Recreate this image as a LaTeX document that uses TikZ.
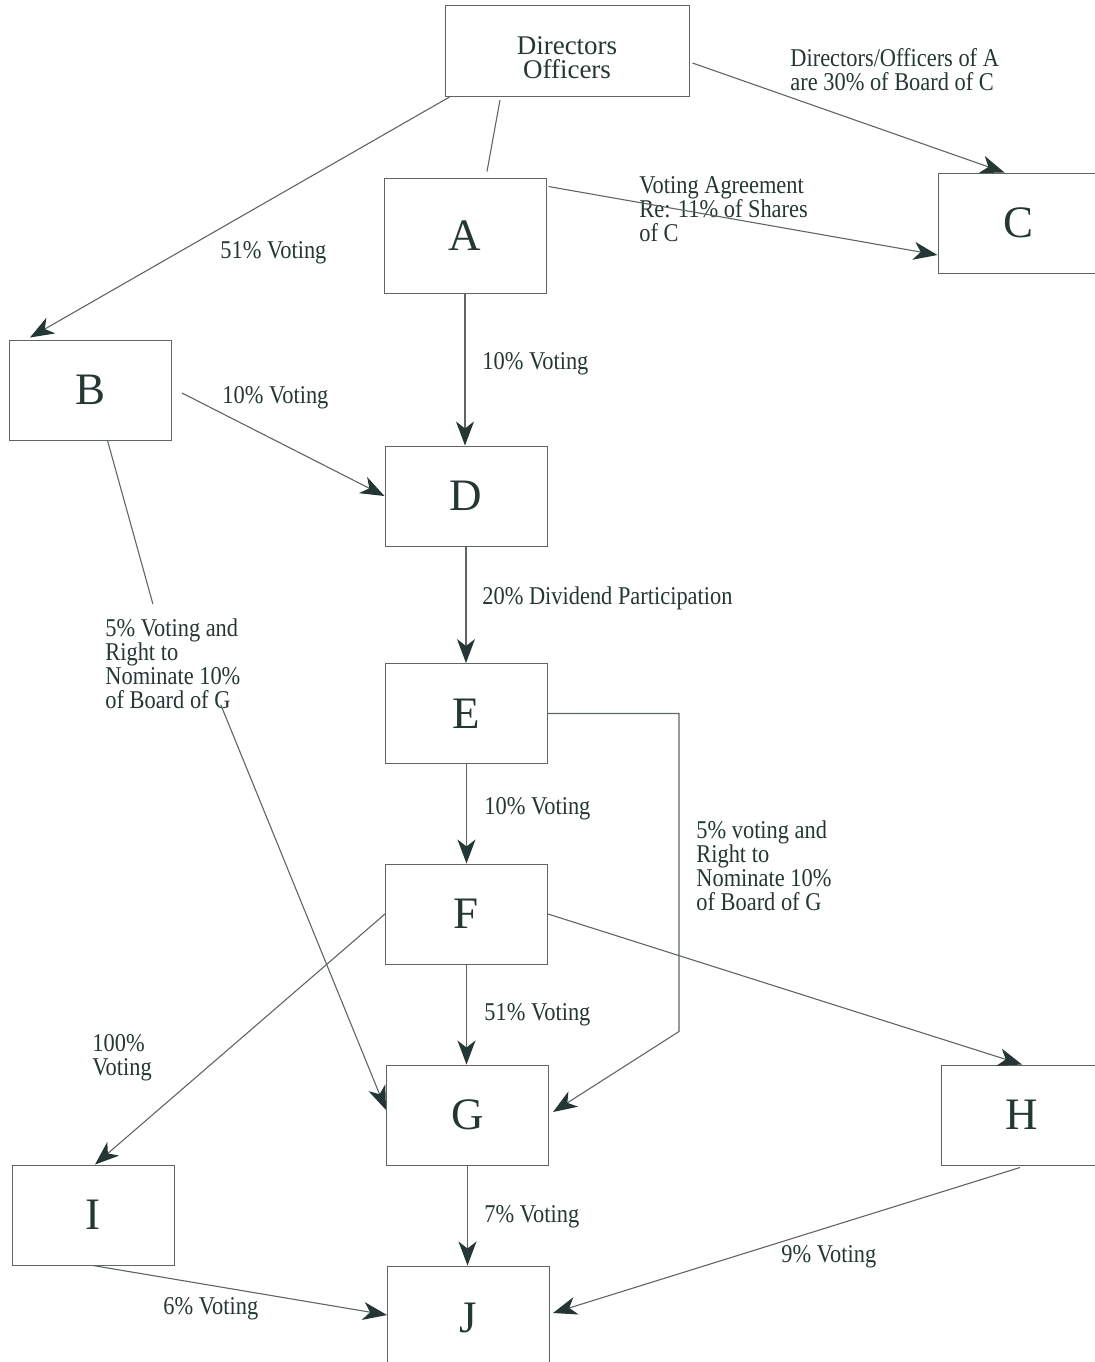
\documentclass[tikz,border=0pt]{standalone}
\usepackage{fontspec}
\setmainfont{Liberation Serif}[FakeStretch=0.875]
\newfontfamily\entfont{Liberation Serif}
\usepackage{tikz}
\usetikzlibrary{arrows.meta,positioning,calc}
\definecolor{ink}{HTML}{243734}
\definecolor{wire}{HTML}{5E6664}
\newcommand{\lbl}{\fontsize{12.8}{12}\selectfont}

\begin{document}
\begin{tikzpicture}[x=0.5pt,y=-0.5pt,
  ent/.style={draw=wire,line width=0.5pt,inner sep=0pt,text=ink,minimum width=81pt,minimum height=50pt,font=\entfont\fontsize{22.5}{22}\selectfont},
  conn/.style={wire,line width=0.55pt},
  arr/.style={conn,-{Stealth[length=12pt,width=9pt,inset=3.5pt,color=ink]}},
  note/.style={text=ink,font=\lbl,inner sep=0pt,align=left}]
  \useasboundingbox (0,0) rectangle (1094,1362);
  % entities
  \node[ent,minimum width=122pt,minimum height=45.5pt] (dir) at (567,51) {};
  \node[note,align=center,font=\entfont\fontsize{13.5}{12}\selectfont] (dirtxt) at ($(dir.center)+(0,7)$) {Directors\\Officers};
  \node[ent,minimum height=57.5pt] (a) at (465,235.5) {A};
  \node[ent] (c) at (1019,223) {C};
  \node[ent] (b) at (90.5,390) {B};
  \node[ent] (d) at (466,496) {D};
  \node[ent] (e) at (466.5,713.5) {E};
  \node[ent] (f) at (466.5,914) {F};
  \node[ent] (g) at (467.5,1115) {G};
  \node[ent] (h) at (1022,1115) {H};
  \node[ent] (i) at (93,1215) {I};
  \node[ent,minimum height=52pt] (j) at (468.5,1318) {J};
  % labels
  \node[note,anchor=north west] (ldc) at (790,48) {Directors/Officers of A\\are 30\% of Board of C};
  \node[note,anchor=north west] (lac) at (639,176) {Voting Agreement\\Re: 11\% of Shares\\of C};
  \node[note,anchor=base west] (ldb) at (220,258) {51\% Voting};
  \node[note,anchor=base west] (lad) at (482,369) {10\% Voting};
  \node[note,anchor=base west] (lbd) at (222,403) {10\% Voting};
  \node[note,anchor=base west] (lde) at (482,604) {20\% Dividend Participation};
  \node[note,anchor=north west] (lbg) at (105,618) {5\% Voting and\\Right to\\Nominate 10\%\\of Board of G};
  \node[note,anchor=base west] (lef) at (484,814) {10\% Voting};
  \node[note,anchor=north west] (leg) at (696,820) {5\% voting and\\Right to\\Nominate 10\%\\of Board of G};
  \node[note,anchor=base west] (lfg) at (484,1020) {51\% Voting};
  \node[note,anchor=north west] (lfi) at (92,1034) {100\%\\Voting};
  \node[note,anchor=base west] (lgj) at (484,1222) {7\% Voting};
  \node[note,anchor=base west] (lhj) at (781,1262) {9\% Voting};
  \node[note,anchor=base west] (lij) at (163,1314) {6\% Voting};
  % connectors
  \draw[arr] ($(dir.south west)+(5,0)$) -- ($(b.north west)+(21,-2)$);
  \draw[conn] ($(dir.south)+(-67,3)$) -- ($(a.north)+(22,-6)$);
  \draw[arr] ($(dir.east)+(3,12)$) -- ($(c.north west)+(67,0)$);
  \draw[arr] ($(a.north east)+(2,9)$) -- ($(c.west)+(0,32)$);
  \draw[arr] (a.south) -- (a.south |- d.north);
  \draw[arr] ($(b.east)+(10,3)$) -- (d.west);
  \draw[conn] ($(b.south)+(17,0)$) -- ($(lbg.north)+(-20,-14)$);
  \draw[arr] ($(lbg.south east)+(-20,-4)$) -- ($(g.west)+(0,-5)$);
  \draw[arr] (d.south) -- (d.south |- e.north);
  \draw[arr] (e.south) -- (e.south |- f.north);
  \draw[arr] (e.east) -- ++(131,0) -- ++(0,318) -- ($(g.east)+(4,-3)$);
  \draw[arr] (f.south) -- (f.south |- g.north);
  \draw[arr] (f.west) -- ($(i.north)+(2,0)$);
  \draw[arr] (f.east) -- (h.north);
  \draw[arr] (g.south) -- (g.south |- j.north);
  \draw[arr] (i.south) -- ($(j.west)+(0,-3)$);
  \draw[arr] ($(h.south)+(-2,2)$) -- ($(j.east)+(3,-5)$);
\end{tikzpicture}
\end{document}
